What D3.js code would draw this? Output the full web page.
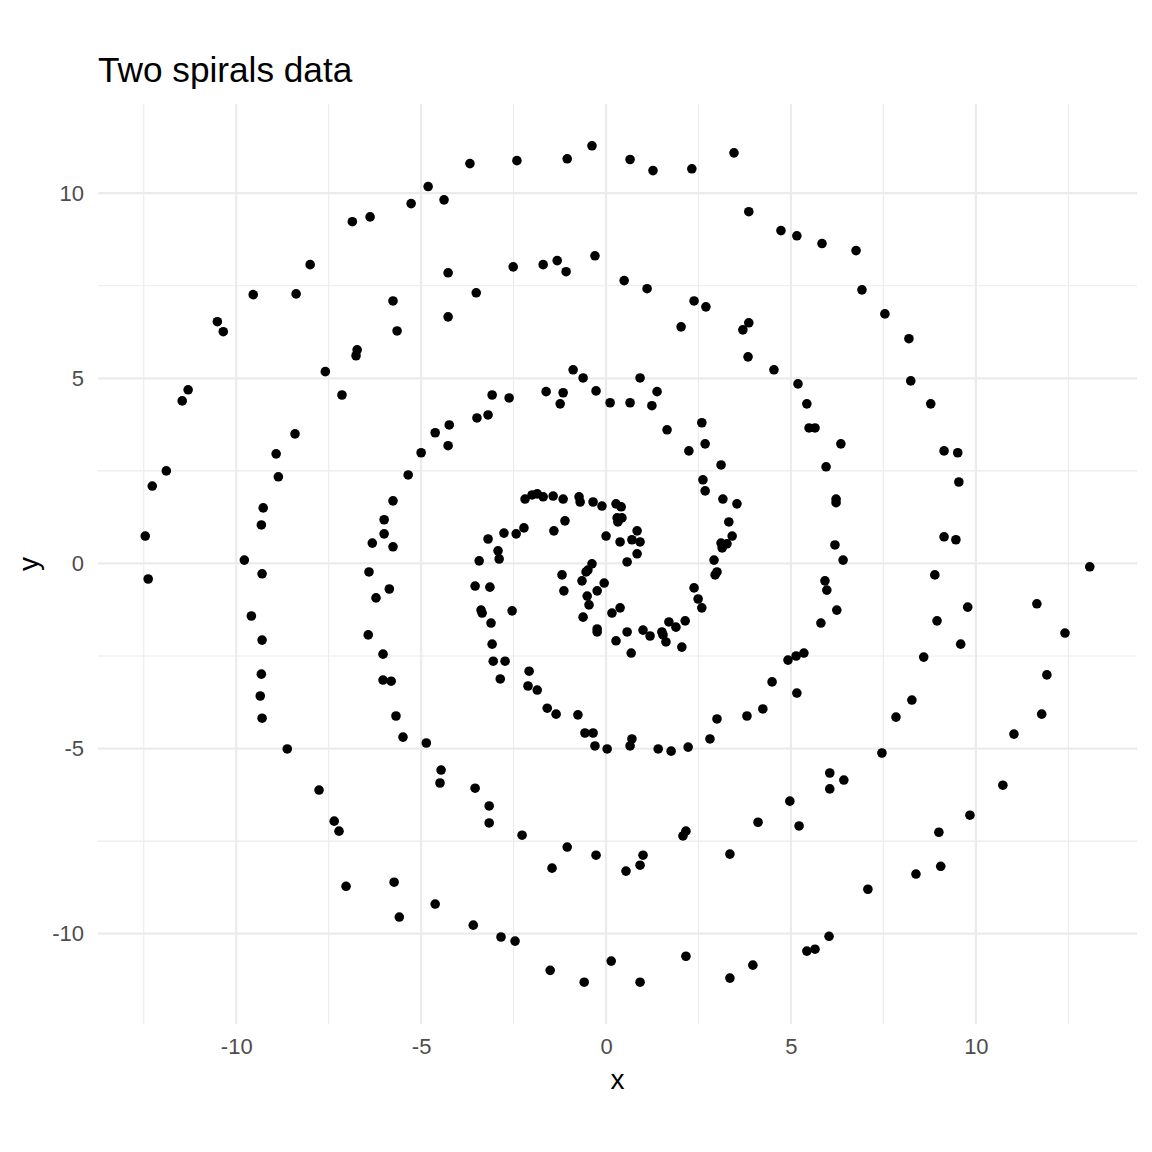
<!DOCTYPE html>
<html lang="en">
<head>
    <meta charset="UTF-8">
    <title>Two spirals data</title>
    <style>
        html, body { margin: 0; padding: 0; background: #fff; }
        svg { display: block; font-family: "Liberation Sans", Arial, Helvetica, sans-serif; }
        .grid-major { stroke: #ebebeb; stroke-width: 2.2; }
        .grid-minor { stroke: #ebebeb; stroke-width: 1.1; }
        .tick text { fill: #4d4d4d; font-size: 22px; }
    </style>
</head>
<body>
    <svg id="chart" width="1152" height="1152"></svg>

    <script src="https://cdn.jsdelivr.net/npm/d3@7"></script>
    <script>
        // point coordinates
        const spiralX = [
            -3.68, -2.41, -1.05, -0.38, 0.65, 1.27, 2.32, 3.46, 3.86, 4.73,
            5.16, 5.84, 6.76, 6.92, 7.54, 8.19, 8.24, 8.78, 9.14, 9.51,
            9.54, 9.14, 9.46, 13.08, 8.89, 9.78, 8.95, 9.59, 8.59, 11.65,
            12.41, 11.92, 11.78, 11.03, 10.73, 9.84, 9.00, 9.05, 8.38, 7.08,
            8.27, 7.84, 7.46, 6.03, 5.43, 5.65, 3.97, 3.35, 2.16, 0.92,
            0.14, -0.59, -1.51, -2.46, -2.84, -3.59, -4.62, -5.59, -5.73, -7.03,
            -7.22, -7.35, -7.76, -8.62, -9.30, -9.35, -9.32, -9.30, -9.59, -9.30,
            -9.78, -12.38, -12.46, -12.27, -11.89, -9.32, -9.27, -8.86, -8.92, -8.41,
            -11.46, -11.30, -7.14, -7.59, -6.76, -6.73, -5.65, -5.76, -4.27, -4.27,
            -3.51, -2.51, -1.70, -1.32, -1.08, -0.30, 0.49, 1.11, 2.38, 2.70,
            2.03, 3.70, 3.86, 3.84, 4.54, 5.19, 5.43, 5.49, 5.65, 6.35,
            5.95, 6.22, 6.22, 6.19, 6.41, 5.92, 5.97, 6.24, 5.81, 5.35,
            5.14, 4.92, 5.16, 4.49, 4.24, 3.81, 3.00, 2.81, 2.22, 1.76,
            1.41, 0.70, 0.65, 0.03, -0.30, -0.35, -0.57, -0.76, -1.35, -1.59,
            -1.86, -2.11, -2.08, -2.86, -2.73, -3.05, -3.08, -3.11, -3.35, -3.38,
            -3.54, -3.14, -3.43, -2.89, -2.92, -3.19, -2.76, -2.43, -2.22, -2.54,
            -5.27, -4.81, -4.38, -6.38, -6.86, -8.00, -9.54, -8.38, -10.51, -10.35,
            -4.62, -4.24, -4.27, -5.00, -5.35, -5.76, -6.00, -6.00, -6.32, -5.76,
            -6.41, -5.86, -6.22, -6.43, -6.03, -6.03, -5.81, -5.68, -5.49, -4.86,
            -4.46, -4.49, -3.54, -3.16, -3.16, -2.27, -1.05, -1.46, -0.27, 0.54,
            0.92, 1.00, 2.08, 2.16, 3.35, 4.11, 4.97, 5.22, 6.05, 6.43,
            6.05, -3.49, -3.19, -3.08, -2.62, -1.62, -1.16, -1.24, -0.89, -0.62,
            -0.27, 0.11, 0.65, 1.24, 1.38, 0.92, 1.65, 2.59, 2.68, 2.24,
            3.11, 2.62, 2.68, 3.16, 3.54, 3.32, 3.41, 3.11, 3.27, 3.14,
            2.92, 2.95, 3.00, 2.38, 2.49, 2.59, 2.14, 1.89, 1.70, 1.62,
            1.54, 1.51, 1.19, 1.00, 2.05, 0.68, 0.57, 0.27, -0.24, -0.24,
            0.38, 0.16, -0.62, -0.46, -0.51, -0.24, -1.14, -0.05, -0.65, -1.19,
            -0.54, -0.49, -0.38, 0.57, 0.84, 0.92, 0.70, 0.84, 0.38, 0.00,
            -1.11, -1.41, 0.30, 0.43, 0.32, 0.41, 0.27, -0.11, -0.35, -0.70,
            -0.73, -1.16, -1.43, -1.70, -1.86, -2.00, -2.19
        ];
        const spiralY = [
            10.80, 10.88, 10.93, 11.28, 10.91, 10.61, 10.66, 11.09, 9.50, 8.99,
            8.85, 8.64, 8.45, 7.39, 6.74, 6.07, 4.93, 4.31, 3.04, 2.99,
            2.20, 0.72, 0.64, -0.09, -0.31, -1.18, -1.55, -2.18, -2.53, -1.09,
            -1.88, -3.01, -4.07, -4.61, -5.99, -6.80, -7.26, -8.18, -8.39, -8.80,
            -3.69, -4.15, -5.12, -10.07, -10.47, -10.42, -10.85, -11.20, -10.61, -11.31,
            -10.74, -11.31, -10.99, -10.20, -10.09, -9.77, -9.20, -9.55, -8.61, -8.72,
            -7.23, -6.96, -6.12, -5.01, -4.18, -3.58, -2.99, -2.07, -1.42, -0.28,
            0.09, -0.42, 0.74, 2.09, 2.50, 1.04, 1.50, 2.34, 2.96, 3.50,
            4.39, 4.69, 4.55, 5.18, 5.61, 5.77, 6.28, 7.09, 6.66, 7.85,
            7.31, 8.01, 8.07, 8.18, 7.88, 8.31, 7.64, 7.42, 7.09, 6.93,
            6.39, 6.31, 6.50, 5.58, 5.23, 4.85, 4.31, 3.66, 3.66, 3.23,
            2.61, 1.74, 1.64, 0.50, 0.09, -0.47, -0.72, -1.26, -1.61, -2.42,
            -2.50, -2.61, -3.50, -3.20, -3.93, -4.12, -4.20, -4.74, -4.96, -5.07,
            -5.01, -4.74, -4.93, -5.01, -4.93, -4.58, -4.58, -4.09, -4.07, -3.91,
            -3.42, -3.31, -2.91, -3.12, -2.64, -2.64, -2.18, -1.61, -1.34, -1.26,
            -0.61, -0.64, 0.07, 0.12, 0.34, 0.66, 0.82, 0.80, 0.96, -1.28,
            9.72, 10.18, 9.82, 9.36, 9.23, 8.07, 7.26, 7.28, 6.53, 6.26,
            3.53, 3.74, 3.18, 2.99, 2.39, 1.69, 1.18, 0.80, 0.55, 0.45,
            -0.23, -0.69, -0.93, -1.93, -2.45, -3.15, -3.18, -4.12, -4.69, -4.85,
            -5.58, -5.93, -6.07, -6.55, -7.01, -7.34, -7.66, -8.23, -7.88, -8.31,
            -8.15, -7.88, -7.36, -7.23, -7.85, -6.99, -6.42, -7.09, -5.66, -5.85,
            -6.09, 3.93, 4.01, 4.55, 4.47, 4.64, 4.61, 4.31, 5.23, 5.01,
            4.66, 4.34, 4.34, 4.26, 4.64, 5.01, 3.61, 3.80, 3.23, 3.04,
            2.66, 2.26, 1.96, 1.74, 1.61, 1.12, 0.74, 0.55, 0.53, 0.42,
            0.09, -0.31, -0.23, -0.66, -0.96, -1.20, -1.55, -1.72, -1.58, -2.12,
            -1.93, -1.85, -1.96, -1.80, -2.26, -2.42, -1.85, -2.09, -1.77, -1.85,
            -1.20, -1.34, -1.45, -1.12, -0.88, -0.74, -0.74, -0.53, -0.47, -0.31,
            -0.23, -0.18, -0.01, 0.04, 0.26, 0.58, 0.64, 0.88, 0.58, 0.74,
            1.15, 0.88, 1.23, 1.23, 1.12, 1.53, 1.61, 1.55, 1.66, 1.66,
            1.80, 1.74, 1.82, 1.80, 1.88, 1.85, 1.74
        ];
        const xBreaks = [-10, -5, 0, 5, 10];
        const yBreaks = [-10, -5, 0, 5, 10];
        const xMinor = [-12.5, -7.5, -2.5, 2.5, 7.5, 12.5];
        const yMinor = [-12.5, -7.5, -2.5, 2.5, 7.5, 12.5];

        const points = spiralX.map((x, i) => ({ x: x, y: spiralY[i] }));

        const panel = { left: 98, right: 1137, top: 104, bottom: 1024 };

        // ggplot-style 5% expansion of the data range
        function expand(ext) {
            const pad = (ext[1] - ext[0]) * 0.05;
            return [ext[0] - pad, ext[1] + pad];
        }

        const x = d3.scaleLinear()
            .domain(expand(d3.extent(spiralX)))
            .range([panel.left, panel.right]);
        const y = d3.scaleLinear()
            .domain(expand(d3.extent(spiralY)))
            .range([panel.bottom, panel.top]);

        const svg = d3.select("#chart");

        // grid lines, minor first
        const inX = v => v >= x.domain()[0] && v <= x.domain()[1];
        const inY = v => v >= y.domain()[0] && v <= y.domain()[1];

        svg.append("g").selectAll("line")
            .data(xMinor.filter(inX))
            .join("line")
            .attr("class", "grid-minor")
            .attr("x1", d => x(d)).attr("x2", d => x(d))
            .attr("y1", panel.top).attr("y2", panel.bottom);
        svg.append("g").selectAll("line")
            .data(yMinor.filter(inY))
            .join("line")
            .attr("class", "grid-minor")
            .attr("y1", d => y(d)).attr("y2", d => y(d))
            .attr("x1", panel.left).attr("x2", panel.right);
        svg.append("g").selectAll("line")
            .data(xBreaks)
            .join("line")
            .attr("class", "grid-major")
            .attr("x1", d => x(d)).attr("x2", d => x(d))
            .attr("y1", panel.top).attr("y2", panel.bottom);
        svg.append("g").selectAll("line")
            .data(yBreaks)
            .join("line")
            .attr("class", "grid-major")
            .attr("y1", d => y(d)).attr("y2", d => y(d))
            .attr("x1", panel.left).attr("x2", panel.right);

        // axes without lines or ticks (theme_minimal)
        const xAxis = svg.append("g")
            .attr("transform", `translate(0,${panel.bottom})`)
            .call(d3.axisBottom(x).tickValues(xBreaks).tickSize(0).tickPadding(14)
                .tickFormat(d => String(d)));
        xAxis.select(".domain").remove();
        xAxis.selectAll("text").attr("font-family", null).attr("font-size", null);

        const yAxis = svg.append("g")
            .attr("transform", `translate(${panel.left},0)`)
            .call(d3.axisLeft(y).tickValues(yBreaks).tickSize(0).tickPadding(14)
                .tickFormat(d => String(d)));
        yAxis.select(".domain").remove();
        yAxis.selectAll("text").attr("font-family", null).attr("font-size", null);

        // points
        svg.append("g").selectAll("circle")
            .data(points)
            .join("circle")
            .attr("cx", d => x(d.x))
            .attr("cy", d => y(d.y))
            .attr("r", 4.8)
            .attr("fill", "#000");

        // titles
        svg.append("text")
            .attr("x", panel.left)
            .attr("y", 82)
            .attr("font-size", 35.2)
            .attr("fill", "#000")
            .text("Two spirals data");

        svg.append("text")
            .attr("x", (panel.left + panel.right) / 2)
            .attr("y", 1089)
            .attr("text-anchor", "middle")
            .attr("font-size", 28)
            .attr("fill", "#000")
            .text("x");

        svg.append("text")
            .attr("transform", `translate(38,${(panel.top + panel.bottom) / 2}) rotate(-90)`)
            .attr("text-anchor", "middle")
            .attr("font-size", 28)
            .attr("fill", "#000")
            .text("y");
    </script>
</body>
</html>
